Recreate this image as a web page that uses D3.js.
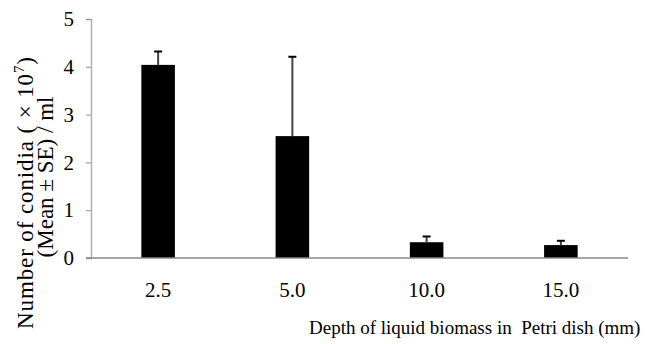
<!DOCTYPE html>
<html>
<head>
<meta charset="utf-8">
<script src="https://cdn.jsdelivr.net/npm/d3@7"></script>
<style>
  body { margin: 0; background: #fff; }
</style>
</head>
<body>
<div id="chart"></div>
<script>
// depth categories and conidia means / SE (x10^7 per ml)
const depths = ['2.5', '5.0', '10.0', '15.0'];
const means = [4.04, 2.55, 0.33, 0.27];
const errors = [0.28, 1.66, 0.12, 0.09];
const yTicks = [0, 1, 2, 3, 4, 5];

const width = 650;
const height = 344;
const margin = { top: 19, right: 22, bottom: 86, left: 91 };
const serif = '"Liberation Serif", "DejaVu Serif", serif';

const data = depths.map((d, i) => ({ depth: d, mean: means[i], se: errors[i] }));

const svg = d3.select('#chart')
  .append('svg')
  .attr('width', width)
  .attr('height', height)
  .attr('font-family', serif);

const x = d3.scaleBand()
  .domain(depths)
  .range([margin.left, width - margin.right])
  .paddingInner(0.75)
  .paddingOuter(0.375);

const y = d3.scaleLinear()
  .domain([0, 5])
  .range([height - margin.bottom, margin.top]);

// y axis
const yAxis = svg.append('g')
  .attr('transform', `translate(${margin.left},0)`)
  .call(d3.axisLeft(y).tickValues(yTicks).tickSize(5).tickPadding(12).tickFormat(d3.format('d')));
yAxis.attr('font-family', serif).attr('font-size', 21);
yAxis.select('.domain').attr('stroke', '#b0b0b0').attr('stroke-width', 1.5);
yAxis.selectAll('.tick line').attr('stroke', '#909090');
yAxis.selectAll('.tick text').attr('fill', '#000');

// bars
svg.selectAll('rect.bar')
  .data(data)
  .enter()
  .append('rect')
  .attr('class', 'bar')
  .attr('x', d => x(d.depth))
  .attr('y', d => y(d.mean))
  .attr('width', x.bandwidth())
  .attr('height', d => y(0) - y(d.mean))
  .attr('fill', '#000');

// error bars (upper only)
const err = svg.append('g');
err.selectAll('line.stem')
  .data(data)
  .enter()
  .append('line')
  .attr('x1', d => x(d.depth) + x.bandwidth() / 2)
  .attr('x2', d => x(d.depth) + x.bandwidth() / 2)
  .attr('y1', d => y(d.mean))
  .attr('y2', d => y(d.mean + d.se))
  .attr('stroke', '#444')
  .attr('stroke-width', 2);
err.selectAll('line.cap')
  .data(data)
  .enter()
  .append('line')
  .attr('x1', d => x(d.depth) + x.bandwidth() / 2 - 4)
  .attr('x2', d => x(d.depth) + x.bandwidth() / 2 + 4)
  .attr('y1', d => y(d.mean + d.se))
  .attr('y2', d => y(d.mean + d.se))
  .attr('stroke', '#000')
  .attr('stroke-width', 2);

// x axis
const xAxis = svg.append('g')
  .attr('transform', `translate(0,${y(0)})`)
  .call(d3.axisBottom(x).tickSize(0).tickPadding(24));
xAxis.attr('font-family', serif).attr('font-size', 21);
xAxis.select('.domain').attr('stroke', '#888').attr('stroke-width', 1.5)
  .attr('d', `M${margin.left - 5},0H${width - margin.right}`);
xAxis.selectAll('.tick text').attr('fill', '#000');

// x title
svg.append('text')
  .attr('x', 309)
  .attr('y', 334)
  .attr('text-anchor', 'start')
  .attr('font-size', 19)
  .text('Depth of liquid biomass in\u00a0 Petri dish (mm)');

// y title, two lines
const yTitle = svg.append('text')
  .attr('transform', 'rotate(-90)')
  .attr('text-anchor', 'middle')
  .attr('x', -193)
  .attr('y', 33)
  .attr('font-size', 23)
  .attr('textLength', 272)
  .attr('lengthAdjust', 'spacing');
yTitle.append('tspan')
  .text('Number of conidia ( × 10');
yTitle.append('tspan')
  .attr('dy', -9)
  .attr('font-size', 15)
  .text('7');
yTitle.append('tspan')
  .attr('dy', 9)
  .text(')');
svg.append('text')
  .attr('transform', 'rotate(-90)')
  .attr('text-anchor', 'middle')
  .attr('x', -177)
  .attr('y', 53)
  .attr('font-size', 23)
  .text('(Mean ± SE) / ml');
</script>
</body>
</html>
